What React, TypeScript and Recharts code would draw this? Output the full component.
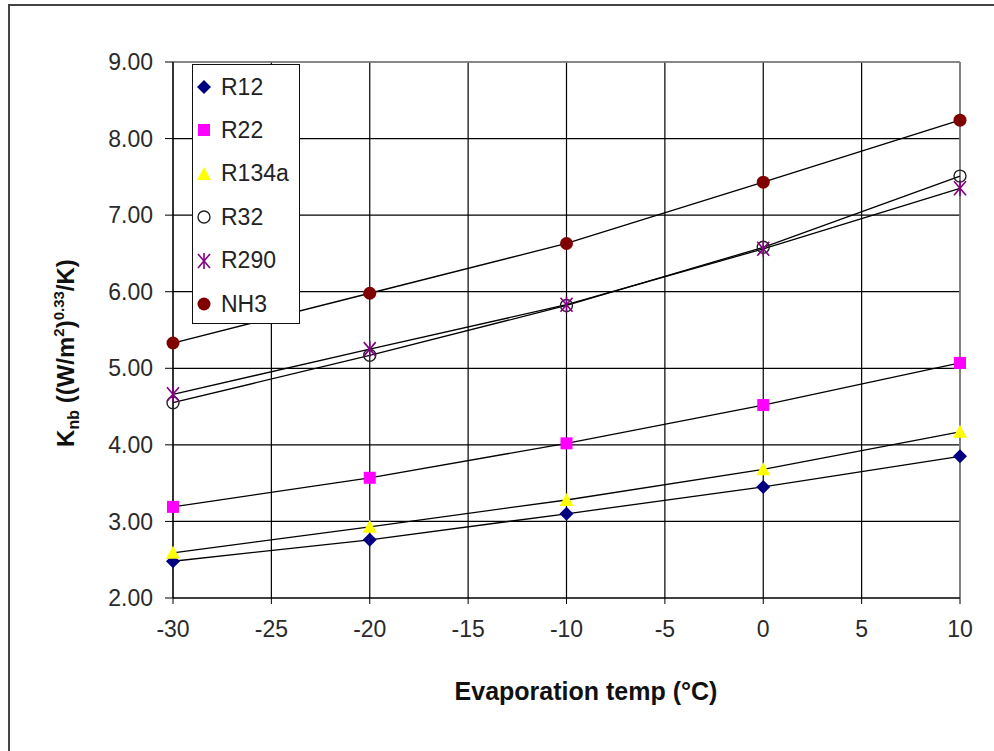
import React from "react";
import { LineChart, Line, XAxis, YAxis, CartesianGrid, ReferenceLine } from "recharts";

// evaporation temperatures (°C) where K_nb was evaluated
const TEMPS = [-30, -20, -10, 0, 10];

const R12 = [2.48, 2.76, 3.1, 3.45, 3.85];
const R22 = [3.19, 3.57, 4.02, 4.52, 5.07];
const R134A = [2.59, 2.93, 3.28, 3.68, 4.17];
const R32 = [4.55, 5.17, 5.82, 6.58, 7.51];
const R290 = [4.66, 5.25, 5.83, 6.56, 7.35];
const NH3 = [5.33, 5.98, 6.63, 7.43, 8.24];

const X_TICKS = [-30, -25, -20, -15, -10, -5, 0, 5, 10];
const Y_TICKS = [2, 3, 4, 5, 6, 7, 8, 9];

type Kind = "diamond" | "square" | "triangle" | "ring" | "star" | "dot";

interface Serie {
  key: string;
  label: string;
  values: number[];
  kind: Kind;
  color: string;
}

const SERIES: Serie[] = [
  { key: "r12", label: "R12", values: R12, kind: "diamond", color: "#000080" },
  { key: "r22", label: "R22", values: R22, kind: "square", color: "#ff00ff" },
  { key: "r134a", label: "R134a", values: R134A, kind: "triangle", color: "#ffff00" },
  { key: "r32", label: "R32", values: R32, kind: "ring", color: "#222222" },
  { key: "r290", label: "R290", values: R290, kind: "star", color: "#800080" },
  { key: "nh3", label: "NH3", values: NH3, kind: "dot", color: "#800000" },
];

const data = TEMPS.map((t, i) => {
  const row: Record<string, number> = { temp: t };
  SERIES.forEach((s) => {
    row[s.key] = s.values[i];
  });
  return row;
});

const FONT = "Arial, 'Liberation Sans', sans-serif";
const tick = { fontSize: 23, fill: "#2a2a2a", fontFamily: FONT };

function Marker({ kind, cx, cy, color }: { kind: Kind; cx: number; cy: number; color: string }) {
  switch (kind) {
    case "diamond":
      return <path d={`M${cx},${cy - 7}L${cx + 7},${cy}L${cx},${cy + 7}L${cx - 7},${cy}Z`} fill={color} />;
    case "square":
      return <rect x={cx - 6} y={cy - 6} width={12} height={12} fill={color} />;
    case "triangle":
      return <path d={`M${cx},${cy - 7}L${cx + 7},${cy + 6}L${cx - 7},${cy + 6}Z`} fill={color} />;
    case "ring":
      return <circle cx={cx} cy={cy} r={6} fill="none" stroke={color} strokeWidth={1.4} />;
    case "star":
      return (
        <g stroke={color} strokeWidth={1.6}>
          <line x1={cx - 6} y1={cy - 7} x2={cx + 6} y2={cy + 7} />
          <line x1={cx + 6} y1={cy - 7} x2={cx - 6} y2={cy + 7} />
          <line x1={cx} y1={cy - 8} x2={cx} y2={cy + 8} />
        </g>
      );
    default:
      return <circle cx={cx} cy={cy} r={6.5} fill={color} />;
  }
}

function LegendBox() {
  return (
    <div
      style={{
        position: "absolute",
        left: 192,
        top: 64,
        width: 106,
        height: 258,
        border: "1px solid #111",
        background: "#fff",
        fontFamily: FONT,
        fontSize: 23,
        color: "#222",
      }}
    >
      {SERIES.map((s, i) => (
        <div
          key={s.key}
          style={{ position: "absolute", left: 0, top: 8 + i * 43.4, height: 28, display: "flex", alignItems: "center" }}
        >
          <svg width={22} height={22} style={{ marginRight: 6 }}>
            <Marker kind={s.kind} cx={11} cy={11} color={s.color} />
          </svg>
          <span>{s.label}</span>
        </div>
      ))}
    </div>
  );
}

function YTitle() {
  return (
    <text
      x={74}
      y={353}
      transform="rotate(-90, 74, 353)"
      textAnchor="middle"
      fontFamily={FONT}
      fontWeight="bold"
      fontSize={24}
      fill="#111"
    >
      <tspan>K</tspan>
      <tspan fontSize={16} dy={5}>nb</tspan>
      <tspan dy={-5}> ((W/m</tspan>
      <tspan fontSize={15} dy={-10}>2</tspan>
      <tspan dy={10}>)</tspan>
      <tspan fontSize={15} dy={-10}>0.33</tspan>
      <tspan dy={10}>/K)</tspan>
    </text>
  );
}

export default function App() {
  return (
    <div style={{ position: "absolute", left: 0, top: 0, width: 994, height: 751, background: "#fff", overflow: "hidden" }}>
      <div
        style={{
          position: "absolute",
          left: 8,
          top: 4,
          width: 1000,
          height: 760,
          borderTop: "2px solid #444",
          borderLeft: "2px solid #444",
        }}
      />
      <div style={{ position: "absolute", left: 0, top: 0 }}>
        <LineChart width={994} height={751} data={data} margin={{ top: 62, right: 34, left: 0, bottom: 93 }}>
          <CartesianGrid stroke="#000" strokeWidth={1.2} />
          <XAxis
            dataKey="temp"
            type="number"
            domain={[-30, 10]}
            ticks={X_TICKS}
            tick={tick}
            tickSize={6}
            tickMargin={17}
            height={60}
            stroke="#000"
            label={{
              content: () => (
                <text x={586} y={700} textAnchor="middle" fontFamily={FONT} fontWeight="bold" fontSize={25} fill="#111">
                  Evaporation temp (°C)
                </text>
              ),
            }}
          />
          <YAxis
            type="number"
            domain={[2, 9]}
            ticks={Y_TICKS}
            tick={tick}
            tickFormatter={(v: number) => v.toFixed(2)}
            tickSize={8}
            tickMargin={12}
            width={173}
            stroke="#000"
            label={{ content: () => <YTitle /> }}
          />
          <ReferenceLine y={9} stroke="#8a8a8a" strokeWidth={1.5} />
          <ReferenceLine x={10} stroke="#8a8a8a" strokeWidth={1.5} />
          {SERIES.map((s) => (
            <Line
              key={s.key}
              type="linear"
              dataKey={s.key}
              name={s.label}
              stroke="#000"
              strokeWidth={1.3}
              isAnimationActive={false}
              dot={(p: any) => <Marker key={`${s.key}-${p.index}`} kind={s.kind} cx={p.cx} cy={p.cy} color={s.color} />}
              activeDot={false}
            />
          ))}
        </LineChart>
      </div>
      <LegendBox />
    </div>
  );
}
